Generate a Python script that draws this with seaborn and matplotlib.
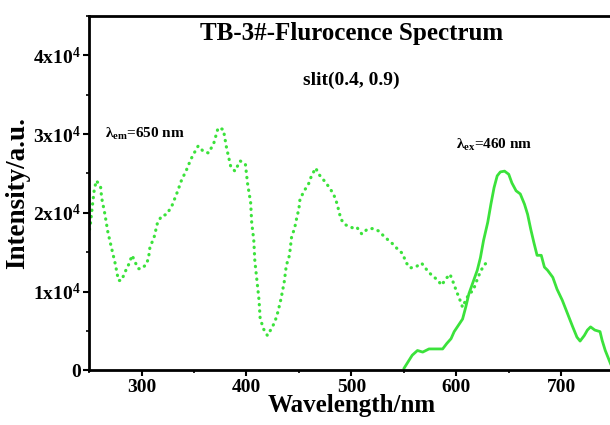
import numpy as np
import pandas as pd
import matplotlib.pyplot as plt
import matplotlib.ticker as mticker
import seaborn as sns

# excitation spectrum (lambda_em = 650 nm), dotted
ex_wl = [249, 251, 253, 255, 257, 261, 262, 265, 268, 272, 275, 278, 281, 284, 288, 291,
         294, 297, 300, 305, 307, 308, 312, 315, 319, 324, 329, 334, 338, 343, 347, 351,
         354, 359, 364, 369, 373, 378, 381, 385, 389, 394, 399, 401, 404, 405, 407, 408,
         410, 412, 413, 416, 420, 423, 427, 430, 433, 436, 438, 441, 443, 446, 448, 450,
         451, 455, 459, 462, 466, 469, 474, 478, 483, 486, 488, 490, 494, 501, 505, 510,
         515, 520, 526, 532, 539, 544, 549, 552, 556, 561, 567, 571, 577, 582, 586, 590,
         594, 597, 600, 603, 606, 608, 612, 616, 619, 622, 626, 630]
ex_int = [1.71, 1.82, 2.07, 2.30, 2.41, 2.33, 2.19, 1.99, 1.75, 1.52, 1.35, 1.14, 1.14, 1.24,
          1.35, 1.46, 1.37, 1.29, 1.29, 1.35, 1.46, 1.56, 1.69, 1.86, 1.96, 1.98, 2.09, 2.26,
          2.41, 2.55, 2.68, 2.78, 2.85, 2.78, 2.76, 2.89, 3.08, 3.06, 2.83, 2.59, 2.53, 2.66,
          2.62, 2.38, 2.13, 1.88, 1.65, 1.39, 1.14, 0.89, 0.67, 0.53, 0.44, 0.51, 0.61, 0.74,
          0.91, 1.12, 1.33, 1.46, 1.69, 1.81, 1.94, 2.05, 2.17, 2.28, 2.36, 2.47, 2.57, 2.49,
          2.41, 2.34, 2.24, 2.13, 2.03, 1.92, 1.85, 1.81, 1.82, 1.73, 1.79, 1.80, 1.77, 1.69,
          1.61, 1.54, 1.48, 1.37, 1.30, 1.31, 1.36, 1.29, 1.20, 1.15, 1.08, 1.16, 1.22, 1.12,
          1.01, 0.91, 0.80, 0.86, 0.97, 1.01, 1.12, 1.22, 1.33, 1.38]

# emission spectrum (lambda_ex = 460 nm), solid
em_wl = [550, 558, 563, 568, 574, 579, 587, 591, 595, 598, 602, 606, 609, 612, 616, 620,
         623, 626, 630, 633, 636, 639, 642, 646, 650, 653, 657, 661, 665, 668, 671, 674,
         677, 681, 684, 687, 692, 696, 701, 706, 711, 715, 718, 722, 725, 728, 732, 737,
         739, 742, 745, 748]
em_int = [0.02, 0.19, 0.25, 0.23, 0.27, 0.27, 0.27, 0.34, 0.40, 0.49, 0.57, 0.65, 0.80, 0.97,
          1.12, 1.27, 1.43, 1.65, 1.88, 2.11, 2.32, 2.47, 2.52, 2.53, 2.49, 2.38, 2.28, 2.24,
          2.11, 1.98, 1.79, 1.62, 1.46, 1.46, 1.31, 1.27, 1.18, 1.03, 0.89, 0.72, 0.55, 0.42,
          0.37, 0.44, 0.51, 0.55, 0.51, 0.49, 0.38, 0.25, 0.15, 0.05]

y_ticks = [0, 1e4, 2e4, 3e4, 4e4]

ex_df = pd.DataFrame({'wl': ex_wl, 'I': np.array(ex_int) * 1e4})
em_df = pd.DataFrame({'wl': em_wl, 'I': np.array(em_int) * 1e4})

sns.set_style('ticks')
plt.rcParams['font.family'] = ['Liberation Serif', 'DejaVu Serif']
plt.rcParams['font.weight'] = 'bold'
plt.rcParams['mathtext.fontset'] = 'custom'
plt.rcParams['mathtext.rm'] = 'Liberation Serif:bold'
plt.rcParams['mathtext.it'] = 'Liberation Serif:bold'
plt.rcParams['mathtext.bf'] = 'Liberation Serif:bold'
for key in ['text.color', 'axes.labelcolor', 'xtick.color', 'ytick.color']:
    plt.rcParams[key] = 'black'

green = '#3be23b'

fig = plt.figure(figsize=(6.1, 4.25), dpi=100)
ax = fig.add_axes([0.146, 0.129, 0.86, 0.833])

sns.lineplot(data=ex_df, x='wl', y='I', ax=ax, color=green, lw=2.3,
             linestyle=(0, (0.1, 1.9)), dash_capstyle='round')
sns.lineplot(data=em_df, x='wl', y='I', ax=ax, color=green, lw=2.0)

ax.set_xlim(250, 750)
ax.set_ylim(0, 4.5e4)
ax.xaxis.set_major_locator(mticker.MultipleLocator(100))
ax.xaxis.set_minor_locator(mticker.MultipleLocator(50))
ax.set_yticks(y_ticks)
ax.yaxis.set_minor_locator(mticker.MultipleLocator(5000))


def fmt(v, pos):
    if v == 0:
        return '0'
    return r'%dx10$^{%d}$' % (round(v / 1e4), 4)


ax.yaxis.set_major_formatter(mticker.FuncFormatter(fmt))
ax.tick_params(which='major', direction='out', length=4, width=1.5, labelsize=14, pad=2,
               color='black', labelcolor='black')
ax.tick_params(which='minor', direction='out', length=2.5, width=1.2, color='black')
for lab in ax.get_xticklabels() + ax.get_yticklabels():
    lab.set_fontweight('bold')

for s in ax.spines.values():
    s.set_linewidth(2)
    s.set_color('black')
ax.spines['right'].set_visible(False)

ax.set_xlabel('Wavelength/nm', fontsize=18, fontweight='bold', labelpad=-1, color='black')
ax.set_ylabel('Intensity/a.u.', fontsize=19.5, fontweight='bold', labelpad=2, color='black')

ax.text(0.5, 0.952, 'TB-3#-Flurocence Spectrum', transform=ax.transAxes,
        ha='center', va='center', fontsize=18, fontweight='bold', color='black')
ax.text(0.5, 0.82, 'slit(0.4, 0.9)', transform=ax.transAxes,
        ha='center', va='center', fontsize=14, fontweight='bold', color='black')
ax.text(265, 3.0e4, r'λ$_{em}$=650 nm', ha='left', va='center', fontsize=11,
        fontweight='bold', color='black')
ax.text(600, 2.86e4, r'λ$_{ex}$=460 nm', ha='left', va='center', fontsize=11,
        fontweight='bold', color='black')

fig.savefig('out.png', dpi=100)
